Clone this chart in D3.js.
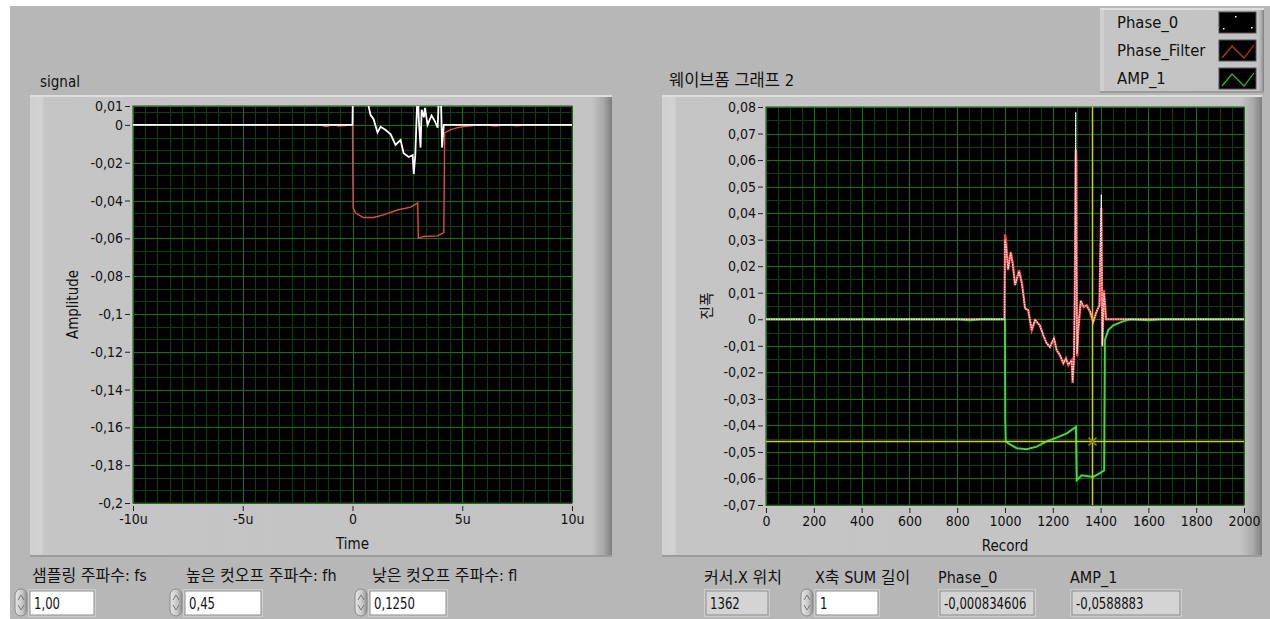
<!DOCTYPE html>
<html>
<head>
<meta charset="utf-8">
<script src="https://cdn.jsdelivr.net/npm/d3@7"></script>
<style>
  body { margin: 0; background: #fff; }
  svg text { font-family: "Liberation Sans Narrow", "DejaVu Sans Condensed", "Noto Sans CJK KR", sans-serif; fill: #111; }
</style>
</head>
<body>
<svg id="chart"></svg>
<script>
// ---- data ----

// left graph "signal": time in u
var sigPhaseTime = [-10, 0, 0.02, 0.7, 0.73, 0.82, 0.96, 1.14, 1.28, 1.51, 1.74, 1.96, 2.19, 2.33, 2.56, 2.74, 2.79, 2.86, 2.97, 3.02, 3.1, 3.15, 3.25, 3.3, 3.42, 3.6, 3.75, 3.88, 3.95, 4.02, 4.08, 4.16, 10];
var sigPhase = [0, 0, 0.02, 0.02, 0.01, 0.0053, 0.003, -0.004, -0.001, -0.0027, -0.005, -0.0106, -0.008, -0.015, -0.017, -0.016, -0.026, -0.016, 0.02, 0.003, -0.012, 0.008, 0.004, 0.009, 0, 0.005, 0.002, -0.0015, 0.02, 0.02, -0.012, 0, 0];
var sigAmpTime = [-10, -1.5, -1.2, -0.9, -0.6, -0.3, 0, 0.03, 0.14, 0.5, 0.96, 1.41, 2.05, 2.65, 2.97, 3.0, 3.24, 3.88, 4.16, 4.2, 4.45, 4.75, 5.0, 5.5, 6, 6.5, 7, 7.5, 8, 10];
var sigAmp = [0, 0, -0.0008, 0, -0.0006, -0.0004, 0, -0.044, -0.0466, -0.049, -0.049, -0.0476, -0.045, -0.0435, -0.0413, -0.06, -0.059, -0.0587, -0.057, -0.0042, -0.0026, -0.0016, -0.001, -0.0004, 0, -0.0006, 0, -0.0005, 0, 0];

// right graph "웨이브폼 그래프 2": record index
var recFilter = [0, 990, 998, 1000, 1004, 1013, 1024, 1033, 1042, 1059, 1071, 1084, 1097, 1112, 1126, 1146, 1160, 1174, 1188, 1205, 1216, 1230, 1244, 1255, 1265, 1279, 1283, 1289, 1293, 1296, 1298, 1302, 1306, 1317, 1328, 1342, 1356, 1369, 1383, 1395, 1403, 1407, 1414, 1423, 2000];
var phaseFilter = [0, 0, 0, 0.032, 0.03, 0.0185, 0.0254, 0.021, 0.0128, 0.0185, 0.0136, 0.0041, 0.0034, -0.0041, -0.0004, -0.0023, -0.006, -0.009, -0.0104, -0.0072, -0.0117, -0.0136, -0.0166, -0.0147, -0.0173, -0.0155, -0.0241, -0.014, 0.018, 0.064, 0.06, -0.014, -0.005, 0.007, 0.0046, 0.0053, 0.0028, -0.001, 0.0028, 0.0053, 0.042, -0.0104, 0.011, 0, 0];
var recPhase0 = [0, 990, 998, 1000, 1004, 1013, 1024, 1033, 1042, 1059, 1071, 1084, 1097, 1112, 1126, 1146, 1160, 1174, 1188, 1205, 1216, 1230, 1244, 1255, 1265, 1279, 1283, 1289, 1293, 1296, 1298, 1302, 1306, 1317, 1328, 1342, 1356, 1369, 1383, 1395, 1403, 1407, 1414, 1423, 2000];
var phase0 = [0, 0, 0, 0.03, 0.028, 0.019, 0.025, 0.02, 0.013, 0.018, 0.013, 0.004, 0.0035, -0.004, 0, -0.0025, -0.006, -0.009, -0.0105, -0.007, -0.0115, -0.0135, -0.0165, -0.015, -0.017, -0.0155, -0.0235, -0.014, 0.02, 0.078, 0.03, -0.013, -0.004, 0.007, 0.005, 0.005, 0.003, -0.001, 0.003, 0.005, 0.047, -0.01, 0.01, 0, 0];
var recAmp = [0, 800, 850, 900, 1000, 1001, 1003, 1014, 1049, 1091, 1133, 1174, 1216, 1258, 1297, 1300, 1321, 1369, 1397, 1415, 1418, 1432, 1453, 1488, 1523, 1600, 1650, 1700, 2000];
var amp1 = [0, 0, -0.0004, 0, 0, -0.0373, -0.046, -0.0468, -0.0486, -0.049, -0.048, -0.046, -0.0446, -0.043, -0.0406, -0.0607, -0.0588, -0.0594, -0.058, -0.057, -0.0079, -0.0041, -0.0023, -0.001, 0, -0.0004, 0, 0, 0];

// cursor on the right graph
var cursorX = 1362, cursorY = -0.046;

// tick values
var sigTimeTicks = [-10, -5, 0, 5, 10];
var sigAmpTicks = [0.01, 0, -0.02, -0.04, -0.06, -0.08, -0.1, -0.12, -0.14, -0.16, -0.18, -0.2];
var recTicks = [0, 200, 400, 600, 800, 1000, 1200, 1400, 1600, 1800, 2000];
var recAmpTicks = [0.08, 0.07, 0.06, 0.05, 0.04, 0.03, 0.02, 0.01, 0, -0.01, -0.02, -0.03, -0.04, -0.05, -0.06, -0.07];

// legend and front panel controls
var legendNames = ['Phase_0', 'Phase_Filter', 'AMP_1'];
var controlLabels = ['샘플링 주파수: fs', '높은 컷오프 주파수: fh', '낮은 컷오프 주파수: fl'];
var controlValues = ['1,00', '0,45', '0,1250'];
var readoutLabels = ['커서.X 위치', 'X축 SUM 길이', 'Phase_0', 'AMP_1'];
var readoutValues = ['1362', '1', '-0,000834606', '-0,0588883'];

// ---- drawing ----
var W = 1270, H = 619;
var fmtNum = d3.formatLocale({decimal: ',', thousands: '.', grouping: [3], currency: ['', ''], minus: '-'}).format('~g');

var svg = d3.select('#chart').attr('width', W).attr('height', H);
var defs = svg.append('defs');

var fg = defs.append('linearGradient').attr('id', 'frameGrad');
[[0, '#cfcfcf'], [0.02, '#d2d2d2'], [0.025, '#c5c5c5'], [0.965, '#c3c3c3'], [0.985, '#a9a9a9'], [1, '#7e7e7e']]
  .forEach(function(s) { fg.append('stop').attr('offset', s[0]).attr('stop-color', s[1]); });
var sg = defs.append('linearGradient').attr('id', 'spinGrad');
[[0, '#e6e6e6'], [0.6, '#c8c8c8'], [1, '#8e8e8e']]
  .forEach(function(s) { sg.append('stop').attr('offset', s[0]).attr('stop-color', s[1]); });

// page background
svg.append('rect').attr('width', W).attr('height', H).attr('fill', '#fff');
svg.append('rect').attr('x', 10).attr('y', 6).attr('width', W - 10).attr('height', H - 6).attr('fill', '#b7b7b7');

// raised LabVIEW style frame
function frame(x, y, w, h) {
  svg.append('rect').attr('x', x).attr('y', y).attr('width', w).attr('height', h).attr('fill', 'url(#frameGrad)');
  svg.append('rect').attr('x', x).attr('y', y).attr('width', w).attr('height', 2).attr('fill', '#dedede');
  svg.append('rect').attr('x', x).attr('y', y + h - 2).attr('width', w).attr('height', 2).attr('fill', '#9c9c9c');
}

function graph(o) {
  var g = svg.append('g');
  var x = d3.scaleLinear().domain(o.xDomain).range([o.left, o.right]);
  var y = d3.scaleLinear().domain(o.yDomain).range([o.bottom, o.top]);

  g.append('rect').attr('x', o.left).attr('y', o.top)
    .attr('width', o.right - o.left).attr('height', o.bottom - o.top)
    .attr('fill', '#000').attr('stroke', '#3a3a3a');

  // grid: minor first, then major at the ticks
  var grid = g.append('g').attr('shape-rendering', 'crispEdges');
  o.xMinor.forEach(function(v) {
    grid.append('line').attr('x1', Math.round(x(v)) + 0.5).attr('x2', Math.round(x(v)) + 0.5)
      .attr('y1', o.top).attr('y2', o.bottom).attr('stroke', '#064206');
  });
  o.yMinor.forEach(function(v) {
    grid.append('line').attr('y1', Math.round(y(v)) + 0.5).attr('y2', Math.round(y(v)) + 0.5)
      .attr('x1', o.left).attr('x2', o.right).attr('stroke', '#064206');
  });
  o.xTicks.forEach(function(v) {
    grid.append('line').attr('x1', Math.round(x(v)) + 0.5).attr('x2', Math.round(x(v)) + 0.5)
      .attr('y1', o.top).attr('y2', o.bottom).attr('stroke', '#0f750f');
  });
  o.yTicks.forEach(function(v) {
    grid.append('line').attr('y1', Math.round(y(v)) + 0.5).attr('y2', Math.round(y(v)) + 0.5)
      .attr('x1', o.left).attr('x2', o.right).attr('stroke', '#0f750f');
  });

  var yAxis = g.append('g').attr('transform', 'translate(' + (o.left - 3) + ',0)')
    .call(d3.axisLeft(y).tickValues(o.yTicks).tickFormat(fmtNum).tickSize(5).tickPadding(2));
  var xAxis = g.append('g').attr('transform', 'translate(0,' + (o.bottom + 3) + ')')
    .call(d3.axisBottom(x).tickValues(o.xTicks).tickFormat(o.xFormat).tickSize(5).tickPadding(3));
  [yAxis, xAxis].forEach(function(a) {
    a.select('.domain').remove();
    a.selectAll('line').attr('stroke', '#222');
    a.selectAll('text').attr('font-size', 14).style('fill', '#111')
      .attr('font-family', '"Liberation Sans Narrow", "DejaVu Sans Condensed", sans-serif');
  });

  g.append('text').attr('x', (o.left + o.right) / 2).attr('y', o.bottom + 46)
    .attr('text-anchor', 'middle').attr('font-size', 15).text(o.xLabel);
  g.append('text').attr('transform', 'translate(' + o.yLabelX + ',' + (o.top + o.bottom) / 2 + ') rotate(-90)')
    .attr('text-anchor', 'middle').attr('font-size', 15).text(o.yLabel);
  g.append('text').attr('x', o.titleX).attr('y', o.titleY).attr('font-size', o.titleSize).text(o.title);

  defs.append('clipPath').attr('id', o.id).append('rect')
    .attr('x', o.left).attr('y', o.top).attr('width', o.right - o.left).attr('height', o.bottom - o.top);
  var plot = g.append('g').attr('clip-path', 'url(#' + o.id + ')');
  return {x: x, y: y, plot: plot};
}

function trace(gr, xs, ys, color, width) {
  var line = d3.line().x(function(d) { return gr.x(d[0]); }).y(function(d) { return gr.y(d[1]); });
  return gr.plot.append('path').datum(d3.zip(xs, ys)).attr('d', line)
    .attr('fill', 'none').attr('stroke', color).attr('stroke-width', width).attr('stroke-linejoin', 'miter');
}

// left graph
frame(30, 95, 582, 462);
var left = graph({
  id: 'clipL', left: 133, right: 572, top: 106, bottom: 503,
  xDomain: [-10, 10], yDomain: [-0.2, 0.01],
  xTicks: sigTimeTicks, yTicks: sigAmpTicks,
  xMinor: d3.range(-10, 10.001, 5 / 9), yMinor: d3.range(-0.2, 0.0101, 0.02 / 3),
  xFormat: function(v) { return v === 0 ? '0' : v + 'u'; },
  xLabel: 'Time', yLabel: 'Amplitude', yLabelX: 78,
  title: 'signal', titleX: 40, titleY: 87, titleSize: 15
});
trace(left, sigAmpTime, sigAmp, '#f04545', 1.4);
trace(left, sigPhaseTime, sigPhase, '#ffffff', 1.8);

// right graph
frame(662, 95, 600, 462);
var right = graph({
  id: 'clipR', left: 766, right: 1244, top: 107, bottom: 505,
  xDomain: [0, 2000], yDomain: [-0.07, 0.08],
  xTicks: recTicks, yTicks: recAmpTicks,
  xMinor: d3.range(0, 2001, 50), yMinor: d3.range(-0.07, 0.0801, 0.005),
  xFormat: function(v) { return String(v); },
  xLabel: 'Record', yLabel: '진폭', yLabelX: 712,
  title: '웨이브폼 그래프 2', titleX: 669, titleY: 86, titleSize: 16.5
});
trace(right, recFilter, phaseFilter, '#ff4040', 2.4);
trace(right, recAmp, amp1, '#36e036', 2);
// Phase_0 is a point plot in the original, so draw it as a fine dotted white trace
trace(right, recPhase0, phase0, '#ffffff', 1.2).attr('stroke-dasharray', '1.5,1');

// cursor
var cx = Math.round(right.x(cursorX)) + 0.5, cy = Math.round(right.y(cursorY)) + 0.5;
right.plot.append('line').attr('x1', cx).attr('x2', cx).attr('y1', 107).attr('y2', 505)
  .attr('stroke', '#d2d200').attr('stroke-width', 1.5);
right.plot.append('line').attr('x1', 766).attr('x2', 1244).attr('y1', cy).attr('y2', cy)
  .attr('stroke', '#d2d200').attr('stroke-width', 1.5);
right.plot.append('path').attr('d', 'M' + (cx - 4) + ',' + (cy - 4) + 'L' + (cx + 4) + ',' + (cy + 4) + 'M' + (cx - 4) + ',' + (cy + 4) + 'L' + (cx + 4) + ',' + (cy - 4))
  .attr('stroke', '#8a8a00').attr('stroke-width', 1.6);

// legend
frame(1100, 8, 164, 85);
legendNames.forEach(function(n, i) {
  var yy = 12 + i * 28;
  svg.append('text').attr('x', 1117).attr('y', yy + 16).attr('font-size', 16.5).text(n);
  svg.append('rect').attr('x', 1219).attr('y', yy).attr('width', 37).attr('height', 21).attr('fill', '#000').attr('stroke', '#555');
  if (i === 0) {
    [[16, 4], [4, 16], [32, 15]].forEach(function(p) {
      svg.append('rect').attr('x', 1219 + p[0]).attr('y', yy + p[1]).attr('width', 1.5).attr('height', 1.5).attr('fill', '#fff');
    });
  } else {
    svg.append('polyline').attr('points', [[1222, yy + 18], [1232, yy + 6], [1244, yy + 18], [1254, yy + 5]].join(' '))
      .attr('fill', 'none').attr('stroke', i === 1 ? '#c83030' : '#20c020').attr('stroke-width', 1.2);
  }
});

// numeric controls and indicators under the graphs
function spinner(x, y) {
  svg.append('rect').attr('x', x).attr('y', y).attr('width', 12).attr('height', 27).attr('rx', 6)
    .attr('fill', 'url(#spinGrad)').attr('stroke', '#8a8a8a');
  svg.append('path').attr('d', 'M' + (x + 3) + ',' + (y + 11) + 'l3,-5l3,5').attr('fill', 'none').attr('stroke', '#777');
  svg.append('path').attr('d', 'M' + (x + 3) + ',' + (y + 16) + 'l3,5l3,-5').attr('fill', 'none').attr('stroke', '#777');
}
function numBox(x, y, w, txt, fill) {
  svg.append('rect').attr('x', x - 2).attr('y', y - 2).attr('width', w + 4).attr('height', 28).attr('fill', '#cdcdcd');
  svg.append('rect').attr('x', x).attr('y', y).attr('width', w).attr('height', 24)
    .attr('fill', fill).attr('stroke', '#8d8d8d');
  // narrow digits like the LabVIEW system font
  svg.append('text').attr('transform', 'translate(' + (x + 4) + ',' + (y + 18) + ') scale(0.84,1)')
    .attr('font-size', 15.5).text(txt);
}

var ctrlX = [15, 170, 355], ctrlLabelX = [32, 186, 372], ctrlW = [64, 76, 76];
controlLabels.forEach(function(l, i) {
  svg.append('text').attr('x', ctrlLabelX[i]).attr('y', 581).attr('font-size', 16).text(l);
  spinner(ctrlX[i], 589);
  numBox(ctrlX[i] + 15, 591, ctrlW[i], controlValues[i], '#fff');
});

var rdLabelX = [704, 815, 938, 1070], rdBoxX = [706, 816, 940, 1072], rdBoxW = [62, 62, 94, 108];
readoutLabels.forEach(function(l, i) {
  svg.append('text').attr('x', rdLabelX[i]).attr('y', 583).attr('font-size', 16).text(l);
  if (i === 1) spinner(801, 589);
  numBox(rdBoxX[i], 591, rdBoxW[i], readoutValues[i], i === 1 ? '#fff' : '#d4d4d4');
});
</script>
</body>
</html>
